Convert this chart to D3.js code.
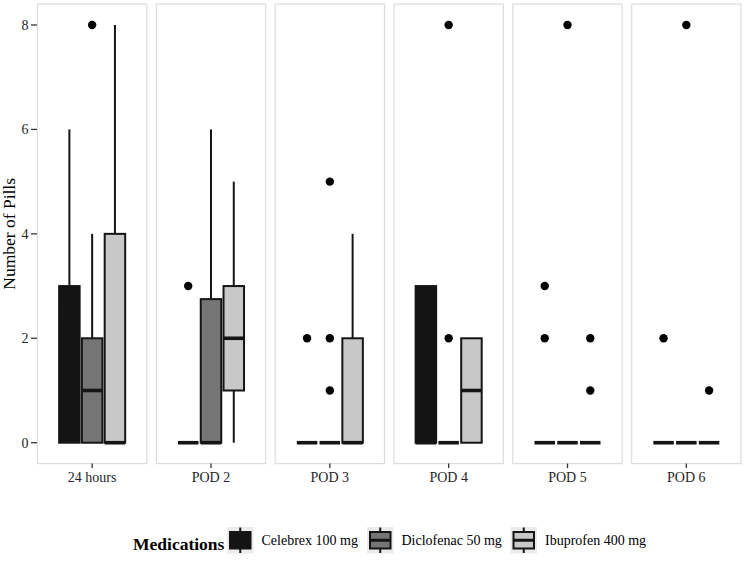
<!DOCTYPE html>
<html>
<head>
<meta charset="utf-8">
<script src="https://cdn.jsdelivr.net/npm/d3@7"></script>
<style>
  html, body { margin: 0; padding: 0; background: #fff; }
  svg { display: block; }
  text { font-family: "Liberation Serif", "DejaVu Serif", serif; }
</style>
</head>
<body>
<svg id="chart" width="750" height="568"></svg>
<script>
// ---------------- data ----------------
const timepoints = ["24 hours", "POD 2", "POD 3", "POD 4", "POD 5", "POD 6"];
const medications = ["Celebrex 100 mg", "Diclofenac 50 mg", "Ibuprofen 400 mg"];
const medColors = ["#141414", "#757575", "#c8c8c8"];
const yTicks = [0, 2, 4, 6, 8];

// [lower whisker, Q1, median, Q3, upper whisker] per timepoint
const celebrexStats   = [[0,0,2.5,3,6],[0,0,0,0,0],[0,0,0,0,0],[0,0,0,3,3],[0,0,0,0,0],[0,0,0,0,0]];
const diclofenacStats = [[0,0,1,2,4],[0,0,0,2.75,6],[0,0,0,0,0],[0,0,0,0,0],[0,0,0,0,0],[0,0,0,0,0]];
const ibuprofenStats  = [[0,0,0,4,8],[0,1,2,3,5],[0,0,0,2,4],[0,0,1,2,2],[0,0,0,0,0],[0,0,0,0,0]];

// outliers per timepoint
const celebrexOutliers   = [[],[3],[2],[],[3,2],[2]];
const diclofenacOutliers = [[8],[],[5,2,1],[8,2],[8],[8]];
const ibuprofenOutliers  = [[],[],[],[],[2,1],[1]];

const statsByMed = [celebrexStats, diclofenacStats, ibuprofenStats];
const outliersByMed = [celebrexOutliers, diclofenacOutliers, ibuprofenOutliers];

// ---------------- layout ----------------
const svg = d3.select("#chart");
const panelLeft = 37.5, panelRight = 741, panelTop = 4.1, panelBottom = 463.6;
const ink = "#151515";

const fx = d3.scaleBand().domain(timepoints).range([panelLeft, panelRight])
  .paddingInner(0.08).paddingOuter(0);
const y = d3.scaleLinear().domain([-0.4, 8.4]).range([panelBottom, panelTop]);

const pw = fx.bandwidth();
const unit = pw / 1.2;
const inner = d3.scaleBand().domain(medications)
  .range([pw / 2 - 0.375 * unit, pw / 2 + 0.375 * unit])
  .paddingInner(0.1).paddingOuter(0.05);

// y axis ticks & labels
const yAxis = svg.append("g");
yAxis.selectAll("line").data(yTicks).join("line")
  .attr("x1", panelLeft - 6.5).attr("x2", panelLeft)
  .attr("y1", d => y(d)).attr("y2", d => y(d))
  .attr("stroke", "#333").attr("stroke-width", 1.3);
yAxis.selectAll("text").data(yTicks).join("text")
  .attr("x", panelLeft - 9).attr("y", d => y(d)).attr("dy", "0.35em")
  .attr("text-anchor", "end").attr("font-size", 14).attr("fill", "#262626")
  .text(d => d);

svg.append("text")
  .attr("transform", `translate(15,${(panelTop + panelBottom) / 2}) rotate(-90)`)
  .attr("text-anchor", "middle").attr("font-size", 17.5).attr("fill", "#000")
  .text("Number of Pills");

// panels
timepoints.forEach((tp, ti) => {
  const g = svg.append("g").attr("transform", `translate(${fx(tp)},0)`);
  g.append("rect").attr("x", 0).attr("y", panelTop).attr("width", pw)
    .attr("height", panelBottom - panelTop)
    .attr("fill", "#fff").attr("stroke", "#dcdcdc").attr("stroke-width", 1.2);

  medications.forEach((m, mi) => {
    const s = statsByMed[mi][ti];
    const x0 = inner(m), bw = inner.bandwidth(), cx = x0 + bw / 2;
    const bg = g.append("g");
    // whiskers
    bg.append("line").attr("x1", cx).attr("x2", cx)
      .attr("y1", y(s[3])).attr("y2", y(s[4]))
      .attr("stroke", ink).attr("stroke-width", 2);
    bg.append("line").attr("x1", cx).attr("x2", cx)
      .attr("y1", y(s[1])).attr("y2", y(s[0]))
      .attr("stroke", ink).attr("stroke-width", 2);
    // box
    bg.append("rect").attr("x", x0).attr("width", bw)
      .attr("y", y(s[3])).attr("height", y(s[1]) - y(s[3]))
      .attr("fill", medColors[mi]).attr("stroke", ink).attr("stroke-width", 2);
    // median
    bg.append("line").attr("x1", x0).attr("x2", x0 + bw)
      .attr("y1", y(s[2])).attr("y2", y(s[2]))
      .attr("stroke", ink).attr("stroke-width", 3.6);
    // outliers
    bg.selectAll("circle").data(outliersByMed[mi][ti]).join("circle")
      .attr("cx", cx).attr("cy", d => y(d)).attr("r", 4.2)
      .attr("fill", "#000");
  });

  // x tick + label
  g.append("line").attr("x1", pw / 2).attr("x2", pw / 2)
    .attr("y1", panelBottom).attr("y2", panelBottom + 4.5)
    .attr("stroke", "#333").attr("stroke-width", 1.3);
  g.append("text").attr("x", pw / 2).attr("y", panelBottom + 18)
    .attr("text-anchor", "middle").attr("font-size", 14).attr("fill", "#262626")
    .text(tp);
});

// ---------------- legend ----------------
const legend = svg.append("g");
legend.append("text").attr("x", 133).attr("y", 549.5)
  .attr("font-size", 17.5).attr("font-weight", "bold").attr("fill", "#000")
  .text("Medications");

const keyX = [227, 367, 510.5];
const keySize = 26.5, keyTop = 527;
medications.forEach((m, i) => {
  const kg = legend.append("g").attr("transform", `translate(${keyX[i]},${keyTop})`);
  kg.append("rect").attr("width", keySize).attr("height", keySize).attr("fill", "#ebebeb");
  kg.append("line").attr("x1", keySize / 2).attr("x2", keySize / 2)
    .attr("y1", 0.5).attr("y2", keySize - 0.5)
    .attr("stroke", ink).attr("stroke-width", 2);
  kg.append("rect").attr("x", 3).attr("y", 5).attr("width", keySize - 6).attr("height", keySize - 10)
    .attr("fill", medColors[i]).attr("stroke", ink).attr("stroke-width", 2);
  kg.append("line").attr("x1", 3).attr("x2", keySize - 3)
    .attr("y1", keySize / 2).attr("y2", keySize / 2)
    .attr("stroke", ink).attr("stroke-width", 3);
  kg.append("text").attr("x", keySize + 8).attr("y", keySize / 2).attr("dy", "0.35em")
    .attr("font-size", 14).attr("fill", "#000").text(m);
});
</script>
</body>
</html>
